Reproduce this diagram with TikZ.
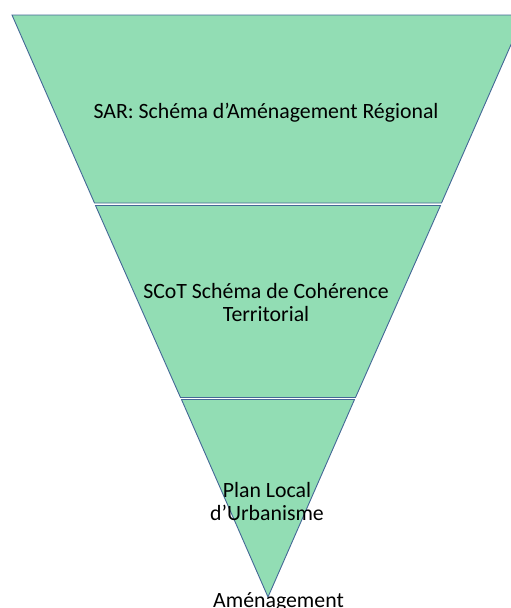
\documentclass[tikz,border=0pt]{standalone}
\usepackage{fontspec}
\setmainfont{Carlito}
\definecolor{segfill}{RGB}{146,221,180}
\definecolor{segline}{RGB}{68,104,150}
\tikzset{
  seg/.style={fill=segfill, draw=segline, line width=0.9pt, line join=miter},
  lbl/.style={font=\fontsize{21.8}{23.5}\selectfont, align=center, text=black, inner sep=0pt, anchor=base}
}
\begin{document}
\begin{tikzpicture}[x=1pt,y=-1pt]
\useasboundingbox (0,0) rectangle (511,608);
\clip (0,0) rectangle (511,608);
% segments
\draw[seg] (12,15) -- (524,15) -- (441.5,203) -- (94.5,203) -- cycle;
\draw[seg] (95.5,205.5) -- (440.5,205.5) -- (355.5,397.5) -- (180.5,397.5) -- cycle;
\draw[seg] (181.5,399.5) -- (354.5,399.5) -- (268,597) -- cycle;
% labels
\node[lbl] (sar) at (266,118) {SAR: Schéma d’Aménagement Régional};
\node[lbl] (scot1) at (266,298) {SCoT Schéma de Cohérence};
\node[lbl] (scot2) at (266,321) {Territorial};
\node[lbl] (plu1) at (267,497) {Plan Local};
\node[lbl] (plu2) at (267,520) {d’Urbanisme};
\node[lbl] (amen) at (278.5,607) {Aménagement};
\end{tikzpicture}
\end{document}
